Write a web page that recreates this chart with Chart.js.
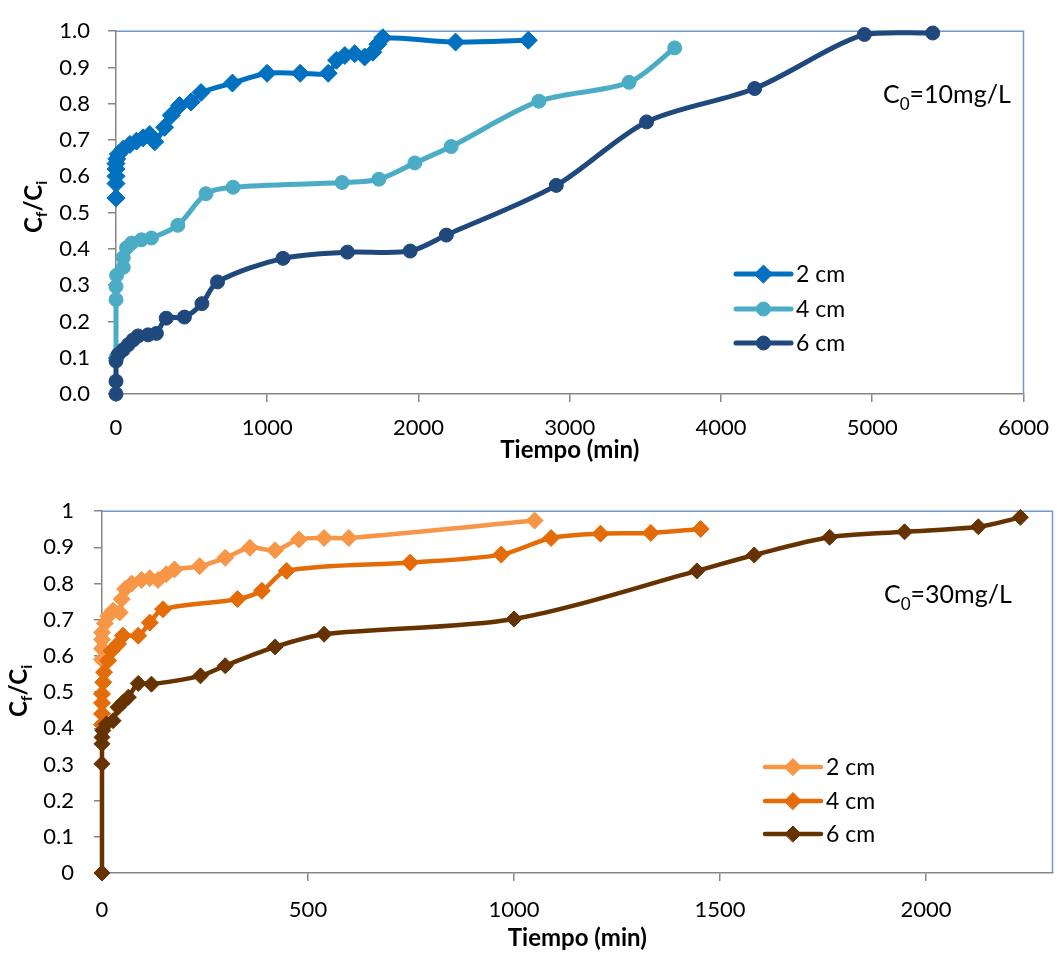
<!DOCTYPE html>
<html><head><meta charset="utf-8">
<script src="https://cdn.jsdelivr.net/npm/chart.js@4/dist/chart.umd.min.js"></script>
<style>
html,body{margin:0;padding:0;background:#fff;}
body{width:1062px;height:953px;position:relative;overflow:hidden;font-family:Lato,sans-serif;}
.cv{position:absolute;left:0;}
.note{position:absolute;font-size:25px;line-height:30px;white-space:nowrap;color:#000;}
.note sub{font-size:0.68em;vertical-align:-0.4em;line-height:0;}
.ytitle{position:absolute;width:120px;height:30px;line-height:30px;text-align:center;font-weight:bold;font-size:24px;transform:rotate(-90deg);white-space:nowrap;color:#000;}
.ytitle sub{font-size:0.65em;vertical-align:-0.3em;line-height:0;}
</style></head><body>
<canvas id="c1" class="cv" width="1062" height="475" style="top:0"></canvas>
<canvas id="c2" class="cv" width="1062" height="475" style="top:478px"></canvas>
<div class="ytitle" style="left:-27px;top:192px">C<sub>f</sub>/C<sub>i</sub></div>
<div class="ytitle" style="left:-42px;top:676px">C<sub>f</sub>/C<sub>i</sub></div>
<div class="note" style="left:883px;top:78px">C<sub>0</sub>=10mg/L</div>
<div class="note" style="left:884px;top:578px">C<sub>0</sub>=30mg/L</div>
<script>
// ---------- Top chart: C0 = 10 mg/L ----------
const seriesNames = ['2 cm', '4 cm', '6 cm'];
const topXTicks = [0, 1000, 2000, 3000, 4000, 5000, 6000];
const topYTicks = ['0.0','0.1','0.2','0.3','0.4','0.5','0.6','0.7','0.8','0.9','1.0'];

const top2Time  = [0, 0, 0, 0, 0, 5, 15, 48, 92, 135, 179, 223, 256, 321, 365, 420, 496, 562, 770, 999, 1218, 1403, 1458, 1513, 1578, 1644, 1698, 1731, 1764, 2245, 2726];
const top2Ratio = [0.54, 0.58, 0.60, 0.62, 0.635, 0.648, 0.661, 0.675, 0.688, 0.697, 0.706, 0.715, 0.695, 0.735, 0.768, 0.795, 0.805, 0.831, 0.857, 0.884, 0.884, 0.884, 0.92, 0.933, 0.938, 0.929, 0.942, 0.964, 0.982, 0.97, 0.975];

const top4Time  = [0, 0, 0, 4, 48, 48, 70, 103, 168, 234, 409, 595, 774, 1495, 1738, 1976, 2216, 2796, 3392, 3694];
const top4Ratio = [0.10, 0.26, 0.296, 0.327, 0.349, 0.376, 0.403, 0.416, 0.425, 0.430, 0.465, 0.552, 0.570, 0.583, 0.592, 0.637, 0.682, 0.807, 0.859, 0.954];

const top6Time  = [0, 0, 0, 15, 48, 81, 113, 146, 212, 267, 332, 452, 568, 671, 1104, 1530, 1945, 2184, 2911, 3508, 4223, 4948, 5400];
const top6Ratio = [0, 0.035, 0.091, 0.109, 0.122, 0.136, 0.149, 0.160, 0.163, 0.167, 0.209, 0.212, 0.249, 0.309, 0.374, 0.391, 0.394, 0.438, 0.575, 0.750, 0.842, 0.991, 0.995];

// ---------- Bottom chart: C0 = 30 mg/L ----------
const botXTicks = [0, 500, 1000, 1500, 2000];
const botYTicks = ['0','0.1','0.2','0.3','0.4','0.5','0.6','0.7','0.8','0.9','1'];

const bot2Time  = [0, 0, 0, 0, 7, 15, 27, 43, 48, 56, 72, 96, 116, 136, 156, 176, 237, 299, 359, 420, 478, 539, 599, 1050];
const bot2Ratio = [0.59, 0.62, 0.645, 0.665, 0.69, 0.71, 0.725, 0.72, 0.757, 0.785, 0.80, 0.81, 0.815, 0.81, 0.826, 0.839, 0.848, 0.871, 0.899, 0.892, 0.922, 0.926, 0.926, 0.974];

const bot4Time  = [0, 0, 0, 0, 3, 5, 15, 23, 39, 51, 88, 116, 148, 329, 388, 448, 748, 969, 1090, 1210, 1332, 1453];
const bot4Ratio = [0.41, 0.44, 0.47, 0.495, 0.527, 0.555, 0.587, 0.614, 0.633, 0.656, 0.656, 0.692, 0.729, 0.757, 0.780, 0.835, 0.858, 0.880, 0.926, 0.938, 0.940, 0.951];

const bot6Time  = [0, 0, 0, 0, 2, 11, 27, 39, 51, 64, 88, 120, 239, 299, 420, 539, 1000, 1444, 1583, 1766, 1948, 2127, 2229];
const bot6Ratio = [0, 0.302, 0.357, 0.375, 0.394, 0.412, 0.421, 0.458, 0.472, 0.486, 0.524, 0.522, 0.545, 0.573, 0.625, 0.660, 0.702, 0.835, 0.879, 0.928, 0.943, 0.957, 0.983];

function pts(xs, ys){ return xs.map((x,i)=>({x:x, y:ys[i]})); }
function ds(label, xs, ys, color, style, radius, order, bw){
  return {label:label, data:pts(xs,ys), borderColor:color, backgroundColor:color,
    pointBackgroundColor:color, pointBorderColor:color, pointStyle:style, pointRadius:radius,
    pointBorderWidth:1, borderWidth:bw, tension:0.3, clip:false, order:order, showLine:true, fill:false};
}
const frame = {id:'frame', beforeDatasetsDraw(chart){
  const ctx=chart.ctx, a=chart.chartArea;
  ctx.save(); ctx.strokeStyle='#6F96CF'; ctx.lineWidth=1.5;
  ctx.beginPath(); ctx.moveTo(a.left,a.top); ctx.lineTo(a.right,a.top); ctx.lineTo(a.right,a.bottom); ctx.stroke();
  ctx.restore();
}};
function legendPlugin(x1, x2, xt, ys){
  return {id:'lg', afterDraw(chart){
    const ctx=chart.ctx;
    chart.data.datasets.forEach((d,i)=>{
      const y=ys[i];
      ctx.save();
      ctx.strokeStyle=d.borderColor; ctx.lineWidth=d.borderWidth; ctx.lineCap='round';
      ctx.beginPath(); ctx.moveTo(x1,y); ctx.lineTo(x2,y); ctx.stroke();
      ctx.fillStyle=d.pointBackgroundColor; ctx.strokeStyle=d.pointBorderColor; ctx.lineWidth=1;
      Chart.helpers.drawPoint(ctx,{pointStyle:d.pointStyle, radius:d.pointRadius, rotation:0, borderWidth:1},(x1+x2)/2,y);
      ctx.fillStyle='#000'; ctx.font='23px Lato'; ctx.textBaseline='middle'; ctx.textAlign='left';
      ctx.fillText(d.label, xt, y+1);
      ctx.restore();
    });
  }};
}
function makeOptions(o){
  return {
    responsive:false, animation:false, devicePixelRatio:1,
    layout:{padding:{left:0, right:o.padRight, top:o.padTop, bottom:0}},
    plugins:{legend:{display:false}, tooltip:{enabled:false}},
    scales:{
      x:{type:'linear', min:0, max:o.xMax,
        afterBuildTicks(s){ s.ticks = o.xTicks.map(v=>({value:v})); },
        afterFit(s){ s.height=o.xHeight; },
        ticks:{font:{size:22, family:'Lato'}, color:'#000', padding:o.xPad, autoSkip:false, maxRotation:0,
          callback:(v)=>String(v)},
        grid:{drawOnChartArea:false, drawTicks:true, tickLength:8, color:'#868686', lineWidth:1.5},
        border:{display:true, color:'#868686', width:1.5},
        title:{display:true, text:'Tiempo (min)', font:{size:24, weight:'bold', family:'Lato'}, color:'#000', padding:{top:0, bottom:o.titlePad}}
      },
      y:{type:'linear', min:0, max:1,
        afterBuildTicks(s){ s.ticks = o.yTicks.map(v=>({value:parseFloat(v)})); },
        afterFit(s){ s.width=o.yWidth; },
        ticks:{font:{size:22, family:'Lato'}, color:'#000', padding:o.yPad,
          callback:(v,i)=>o.yTicks[i]},
        grid:{drawOnChartArea:false, drawTicks:true, tickLength:8, color:'#868686', lineWidth:1.5},
        border:{display:true, color:'#868686', width:1.5}
      }
    }
  };
}
function build(){
  new Chart(document.getElementById('c1'), {
    type:'scatter',
    data:{datasets:[
      ds(seriesNames[0], top2Time, top2Ratio, '#0070C0', 'rectRot', 9, 2, 5),
      ds(seriesNames[1], top4Time, top4Ratio, '#4BACC6', 'circle', 7, 1, 5),
      ds(seriesNames[2], top6Time, top6Ratio, '#1F497D', 'circle', 7, 0, 5)
    ]},
    options:makeOptions({padRight:31, padTop:20, xMax:6000, xTicks:topXTicks, yTicks:topYTicks, xHeight:81, yWidth:116, xPad:13, yPad:18, titlePad:10}),
    plugins:[frame, legendPlugin(736, 791, 796, [274, 309, 343])]
  });
  new Chart(document.getElementById('c2'), {
    type:'scatter',
    data:{datasets:[
      ds(seriesNames[0], bot2Time, bot2Ratio, '#F79646', 'rectRot', 8.5, 2, 4.5),
      ds(seriesNames[1], bot4Time, bot4Ratio, '#E36C09', 'rectRot', 8.5, 1, 4.5),
      ds(seriesNames[2], bot6Time, bot6Ratio, '#663300', 'rectRot', 8, 0, 4.5)
    ]},
    options:makeOptions({padRight:5, padTop:32, xMax:2307, xTicks:botXTicks, yTicks:botYTicks, xHeight:80, yWidth:102, xPad:16, yPad:20, titlePad:0}),
    plugins:[frame, legendPlugin(765, 821, 826, [289, 323, 356])]
  });
}
if (document.fonts && document.fonts.load) {
  Promise.all([document.fonts.load('22px Lato'), document.fonts.load('bold 24px Lato')]).then(build, build);
} else { build(); }
</script>
</body></html>
